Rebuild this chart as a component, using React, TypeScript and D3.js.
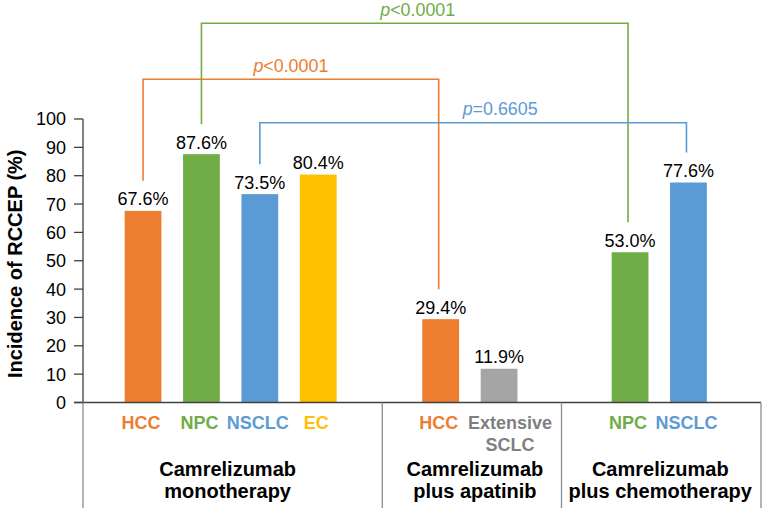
import React from "react";
import * as d3 from "d3";

// ---- data ----
const groupLines: string[][] = [
  ["Camrelizumab", "monotherapy"],
  ["Camrelizumab", "plus apatinib"],
  ["Camrelizumab", "plus chemotherapy"],
];
const barGroup = [0, 0, 0, 0, 1, 1, 2, 2];
const barCategory = ["HCC", "NPC", "NSCLC", "EC", "HCC", "Extensive SCLC", "NPC", "NSCLC"];
const barValues = [67.6, 87.6, 73.5, 80.4, 29.4, 11.9, 53.0, 77.6];
const yTicks = [0, 10, 20, 30, 40, 50, 60, 70, 80, 90, 100];
const yTitle = "Incidence of RCCEP (%)";

const bracketFrom = [0, 1, 2];
const bracketTo = [4, 6, 7];
const bracketLevel = [114, 133.8, 98.7];
const bracketOp = ["<", "<", "="];
const bracketP = ["0.0001", "0.0001", "0.6605"];
const bracketCategory = ["HCC", "NPC", "NSCLC"];

// ---- styles / layout ----
const W = 767;
const H = 508;
const FONT = "'Liberation Sans', Arial, Helvetica, sans-serif";
const colorOf: Record<string, string> = {
  HCC: "#ED7D31",
  NPC: "#70AD47",
  NSCLC: "#5B9BD5",
  EC: "#FFC000",
  "Extensive SCLC": "#A5A5A5",
};
const labelColorOf: Record<string, string> = {
  HCC: "#ED7D31",
  NPC: "#70AD47",
  NSCLC: "#5B9BD5",
  EC: "#FFC000",
  "Extensive SCLC": "#7F7F7F",
};
const groupEdges = [83, 382.3, 561.5, 761];
const STEP = 58.4;
const bracketTextDx = [0, 3, 27];

export default function App() {
  const y = d3.scaleLinear().domain([0, 100]).range([402.5, 119]);
  const y0 = y(0);

  // one band scale per group
  const groupScales = groupLines.map((_, g) => {
    const cats = barCategory.filter((_, i) => barGroup[i] === g);
    const center = (groupEdges[g] + groupEdges[g + 1]) / 2 - 2;
    const n = cats.length;
    return d3
      .scaleBand<string>()
      .domain(cats)
      .range([center - (n * STEP) / 2, center + (n * STEP) / 2])
      .paddingInner(0.37)
      .paddingOuter(0.185);
  });
  const barX = (i: number) => groupScales[barGroup[i]](barCategory[i]) as number;
  const bw = groupScales[0].bandwidth();
  const barCx = (i: number) => barX(i) + bw / 2;

  const axisColor = "#404040";
  const divColor = "#8C8C8C";

  return (
    <svg
      width={W}
      height={H}
      style={{ position: "absolute", left: 0, top: 0, display: "block", background: "#fff" }}
      fontFamily={FONT}
    >
      {/* y title */}
      <text
        transform={`translate(22,${(y(0) + y(100)) / 2 + 3}) rotate(-90)`}
        textAnchor="middle"
        fontSize={20}
        fontWeight="bold"
        fill="#000"
      >
        {yTitle}
      </text>

      {/* y axis */}
      <line x1={groupEdges[0]} x2={groupEdges[0]} y1={y(100)} y2={y0} stroke={axisColor} strokeWidth={1.3} />
      {yTicks.map((t) => (
        <g key={t}>
          <line x1={74} x2={groupEdges[0]} y1={y(t)} y2={y(t)} stroke={axisColor} strokeWidth={1.3} />
          <text x={66} y={y(t)} dy="0.36em" textAnchor="end" fontSize={18} fill="#000">
            {t}
          </text>
        </g>
      ))}

      {/* bars */}
      {barValues.map((v, i) => (
        <g key={i}>
          <rect x={barX(i)} y={y(v)} width={bw} height={y0 - y(v)} fill={colorOf[barCategory[i]]} />
          <text x={barCx(i)} y={y(v) - 5.5} textAnchor="middle" fontSize={18} fill="#000">
            {v.toFixed(1) + "%"}
          </text>
        </g>
      ))}

      {/* x axis */}
      <line x1={74} x2={groupEdges[3]} y1={y0} y2={y0} stroke={axisColor} strokeWidth={1.3} />
      {groupEdges.map((e, k) => (
        <line key={k} x1={e} x2={e} y1={y0} y2={H} stroke={divColor} strokeWidth={1.3} />
      ))}

      {/* category labels */}
      {barCategory.map((c, i) => {
        const words = c === "Extensive SCLC" ? ["Extensive", "SCLC"] : [c];
        const dx = c === "Extensive SCLC" ? 11 : -2;
        return (
          <text
            key={i}
            x={barCx(i) + dx}
            y={429}
            textAnchor="middle"
            fontSize={18}
            fontWeight="bold"
            fill={labelColorOf[c]}
          >
            {words.map((w, k) => (
              <tspan key={k} x={barCx(i) + dx} dy={k === 0 ? 0 : 22}>
                {w}
              </tspan>
            ))}
          </text>
        );
      })}

      {/* group labels */}
      {groupLines.map((lines, g) => {
        const cx = (groupEdges[g] + groupEdges[g + 1]) / 2 - (g === 0 ? 5 : g === 1 ? -3 : 1);
        return (
          <text key={g} x={cx} y={476} textAnchor="middle" fontSize={20} fontWeight="bold" fill="#000">
            {lines.map((l, k) => (
              <tspan key={k} x={cx} dy={k === 0 ? 0 : 22}>
                {l}
              </tspan>
            ))}
          </text>
        );
      })}

      {/* brackets */}
      {bracketFrom.map((a, k) => {
        const b = bracketTo[k];
        const col = colorOf[bracketCategory[k]];
        const top = y(bracketLevel[k]);
        const xa = barCx(a);
        const xb = barCx(b) - 2;
        const ya = y(barValues[a]) - 30;
        const yb = y(barValues[b]) - 30;
        const path = d3.path();
        path.moveTo(xa, ya);
        path.lineTo(xa, top);
        path.lineTo(xb, top);
        path.lineTo(xb, yb);
        const tx = (xa + xb) / 2 + bracketTextDx[k];
        return (
          <g key={k}>
            <path d={path.toString()} fill="none" stroke={col} strokeWidth={1.6} />
            <text
              x={tx}
              y={top - 7.5}
              textAnchor="middle"
              fontSize={17.5}
              fill={col}
              textLength={75}
              lengthAdjust="spacingAndGlyphs"
            >
              <tspan fontStyle="italic">p</tspan>
              {bracketOp[k] + bracketP[k]}
            </text>
          </g>
        );
      })}
    </svg>
  );
}
